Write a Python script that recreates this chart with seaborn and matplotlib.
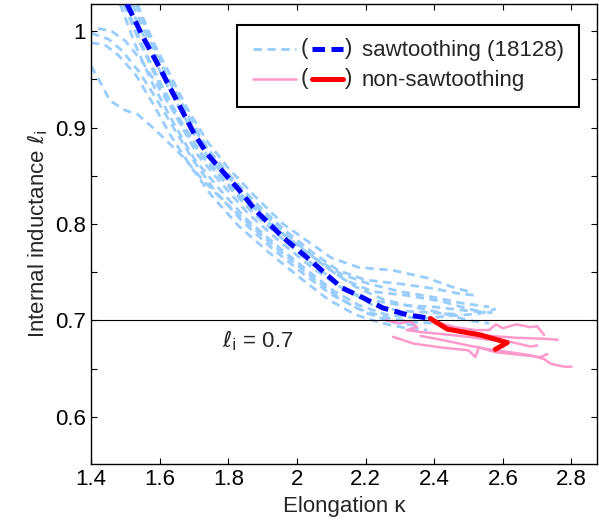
import numpy as np
import pandas as pd
import matplotlib
matplotlib.use("Agg")
import matplotlib.pyplot as plt
import seaborn as sns
from matplotlib.lines import Line2D
from matplotlib.text import Text
from matplotlib.legend_handler import HandlerBase
from matplotlib.ticker import MultipleLocator

# main sawtoothing discharge 18128 (dark dashed) and its non-sawtoothing tail (red)
saw_main_k = [1.505, 1.55, 1.60, 1.65, 1.70, 1.74, 1.80, 1.83, 1.88, 1.96, 2.05, 2.13, 2.19, 2.25, 2.32, 2.39]
saw_main_li = [1.028, 0.995, 0.962, 0.928, 0.894, 0.872, 0.848, 0.836, 0.814, 0.786, 0.759, 0.734, 0.724, 0.713, 0.706, 0.702]
non_main_k = [2.389, 2.438, 2.534, 2.613, 2.578]
non_main_li = [0.702, 0.691, 0.685, 0.677, 0.670]

# other sawtoothing discharges (light dashed)
saw_k = [
    [1.535, 1.58, 1.63, 1.68, 1.74, 1.80, 1.88, 1.96, 2.04, 2.10, 2.18, 2.28, 2.38, 2.45, 2.50],
    [1.52, 1.57, 1.62, 1.68, 1.74, 1.80, 1.88, 1.96, 2.04, 2.12, 2.20, 2.30, 2.40, 2.47, 2.52],
    [1.51, 1.56, 1.61, 1.67, 1.73, 1.80, 1.88, 1.97, 2.06, 2.14, 2.22, 2.32, 2.42, 2.50, 2.55],
    [1.495, 1.54, 1.59, 1.65, 1.71, 1.78, 1.86, 1.95, 2.04, 2.12, 2.20, 2.30, 2.40, 2.50, 2.57],
    [1.485, 1.53, 1.58, 1.64, 1.70, 1.77, 1.85, 1.94, 2.03, 2.11, 2.18, 2.26, 2.36, 2.46, 2.53, 2.58],
    [1.40, 1.45, 1.49, 1.54, 1.59, 1.64, 1.70, 1.76, 1.84, 1.93, 2.02, 2.10, 2.18, 2.26, 2.34, 2.42],
    [1.40, 1.44, 1.48, 1.53, 1.58, 1.63, 1.69, 1.75, 1.83, 1.92, 2.01, 2.09, 2.17, 2.25, 2.32, 2.38],
    [1.42, 1.46, 1.50, 1.55, 1.60, 1.66, 1.72, 1.79, 1.87, 1.96, 2.05, 2.14, 2.22, 2.30, 2.40, 2.48],
    [1.40, 1.43, 1.455, 1.50, 1.535, 1.58, 1.63, 1.67, 1.72, 1.78, 1.86, 1.95, 2.04, 2.12, 2.20, 2.28, 2.36],
    [1.50, 1.55, 1.60, 1.66, 1.72, 1.79, 1.87, 1.96, 2.05, 2.13, 2.21, 2.30, 2.40, 2.48, 2.56],
    [1.53, 1.575, 1.625, 1.69, 1.76, 1.83, 1.91, 2.00, 2.09, 2.17, 2.25, 2.34, 2.42, 2.50, 2.56],
]
saw_li = [
    [1.028, 0.99, 0.955, 0.92, 0.885, 0.858, 0.828, 0.80, 0.78, 0.765, 0.755, 0.752, 0.744, 0.735, 0.730],
    [1.028, 0.99, 0.955, 0.915, 0.878, 0.852, 0.822, 0.795, 0.772, 0.752, 0.742, 0.738, 0.733, 0.728, 0.726],
    [1.028, 0.99, 0.952, 0.912, 0.875, 0.845, 0.815, 0.787, 0.762, 0.742, 0.730, 0.726, 0.720, 0.712, 0.708],
    [1.028, 0.99, 0.952, 0.91, 0.872, 0.842, 0.81, 0.782, 0.756, 0.736, 0.722, 0.716, 0.714, 0.710, 0.708],
    [1.028, 0.985, 0.945, 0.905, 0.868, 0.838, 0.806, 0.778, 0.752, 0.730, 0.716, 0.706, 0.702, 0.705, 0.707, 0.712],
    [0.998, 0.992, 0.98, 0.958, 0.93, 0.90, 0.865, 0.835, 0.803, 0.774, 0.748, 0.727, 0.712, 0.703, 0.698, 0.697],
    [0.988, 0.986, 0.975, 0.955, 0.925, 0.893, 0.86, 0.83, 0.798, 0.77, 0.744, 0.722, 0.706, 0.697, 0.692, 0.690],
    [1.003, 1.00, 0.99, 0.968, 0.94, 0.905, 0.872, 0.843, 0.812, 0.784, 0.757, 0.733, 0.716, 0.710, 0.708, 0.706],
    [0.964, 0.945, 0.928, 0.918, 0.914, 0.900, 0.883, 0.869, 0.848, 0.826, 0.80, 0.772, 0.746, 0.724, 0.708, 0.698, 0.694],
    [1.028, 0.985, 0.948, 0.908, 0.874, 0.845, 0.815, 0.789, 0.765, 0.748, 0.738, 0.730, 0.724, 0.718, 0.714],
    [1.028, 0.99, 0.95, 0.905, 0.866, 0.836, 0.808, 0.78, 0.754, 0.735, 0.722, 0.714, 0.708, 0.700, 0.697],
]

# other non-sawtoothing discharges (light solid)
non_k = [
    [2.26, 2.30, 2.33, 2.35, 2.32, 2.36, 2.42, 2.50, 2.56, 2.62, 2.68, 2.70],
    [2.36, 2.42, 2.50, 2.56, 2.62, 2.68, 2.72, 2.74, 2.78, 2.80],
    [2.39, 2.46, 2.52, 2.56, 2.58, 2.60, 2.64, 2.68, 2.70, 2.72],
    [2.28, 2.34, 2.42, 2.50, 2.52, 2.53, 2.58, 2.66, 2.71, 2.73],
    [2.40, 2.48, 2.56, 2.64, 2.72, 2.76],
]
non_li = [
    [0.700, 0.697, 0.699, 0.693, 0.690, 0.688, 0.686, 0.683, 0.680, 0.678, 0.673, 0.674],
    [0.684, 0.680, 0.674, 0.670, 0.667, 0.664, 0.660, 0.655, 0.652, 0.652],
    [0.700, 0.693, 0.690, 0.690, 0.696, 0.692, 0.696, 0.693, 0.694, 0.685],
    [0.683, 0.676, 0.672, 0.669, 0.662, 0.672, 0.667, 0.664, 0.662, 0.665],
    [0.697, 0.689, 0.684, 0.682, 0.681, 0.680],
]

light_blue = "#99CCFF"
pink = "#FF99CC"

sns.set_style("ticks")
plt.rcParams["font.family"] = ["Liberation Sans", "DejaVu Sans"]
plt.rcParams["mathtext.fontset"] = "dejavusans"

fig = plt.figure(figsize=(5.99, 5.31), dpi=100)
ax = fig.add_axes([0.152, 0.126, 0.845, 0.866])

for k, li in zip(saw_k, saw_li):
    sns.lineplot(x=k, y=li, sort=False, estimator=None, color=light_blue,
                 linewidth=2.0, linestyle=(0, (3, 2)), ax=ax, zorder=2)
for k, li in zip(non_k, non_li):
    sns.lineplot(x=k, y=li, sort=False, estimator=None, color=pink,
                 linewidth=1.8, ax=ax, zorder=2)
sns.lineplot(x=saw_main_k, y=saw_main_li, sort=False, estimator=None, color="#0000FF",
             linewidth=3.6, linestyle=(0, (2.5, 1.3)), ax=ax, zorder=4)
sns.lineplot(x=non_main_k, y=non_main_li, sort=False, estimator=None, color="#FF0000",
             linewidth=3.6, ax=ax, zorder=4)

ax.axhline(0.7, color="black", linewidth=0.8, zorder=3)
ax.text(1.885, 0.679, r"$\ell_{\rm i}$ = 0.7", ha="center", va="center", fontsize=16)

ax.set_xlim(1.4, 2.875)
ax.set_ylim(0.551, 1.028)
ax.set_xticks([1.4, 1.6, 1.8, 2.0, 2.2, 2.4, 2.6, 2.8])
ax.set_xticklabels(["1.4", "1.6", "1.8", "2", "2.2", "2.4", "2.6", "2.8"])
ax.set_yticks([0.6, 0.7, 0.8, 0.9, 1.0])
ax.set_yticklabels(["0.6", "0.7", "0.8", "0.9", "1"])
ax.yaxis.set_minor_locator(MultipleLocator(0.05))
ax.tick_params(which="both", direction="in", top=True, right=True, length=4.5,
               width=0.8, labelsize=16, colors="black")
for s in ax.spines.values():
    s.set_linewidth(1.0)
    s.set_color("black")

ax.set_xlabel("Elongation κ", fontsize=16)
ax.set_ylabel(r"Internal inductance $\ell_{\rm i}$", fontsize=16)


class ParenHandler(HandlerBase):
    def create_artists(self, legend, orig_handle, xdescent, ydescent,
                       width, height, fontsize, trans):
        light, dark = orig_handle
        y = height / 2 - ydescent
        x0 = -xdescent
        a = Line2D([x0, x0 + 0.45 * width], [y, y])
        a.update_from(light)
        a.set_transform(trans)
        b = Line2D([x0 + 0.62 * width, x0 + 0.94 * width], [y, y])
        b.update_from(dark)
        b.set_transform(trans)
        p1 = Text(x0 + 0.535 * width, y, "(", fontsize=fontsize, ha="center",
                  va="center", transform=trans, family=["Liberation Sans", "DejaVu Sans"])
        p2 = Text(x0 + 1.0 * width, y, ")", fontsize=fontsize, ha="center",
                  va="center", transform=trans, family=["Liberation Sans", "DejaVu Sans"])
        return [a, p1, b, p2]


h_saw = (Line2D([], [], color=light_blue, linewidth=2.0, linestyle=(0, (3, 2))),
         Line2D([], [], color="#0000FF", linewidth=3.6, linestyle=(0, (2.5, 1.3))))
h_non = (Line2D([], [], color=pink, linewidth=1.8),
         Line2D([], [], color="#FF0000", linewidth=3.6))
leg = ax.legend([h_saw, h_non], ["sawtoothing (18128)", "non-sawtoothing"],
                handler_map={tuple: ParenHandler()}, loc="upper right",
                bbox_to_anchor=(0.965, 0.955), borderaxespad=0, fontsize=16,
                handlelength=4.3, handletextpad=0.6, labelspacing=0.4,
                borderpad=0.7, fancybox=False, framealpha=1, edgecolor="black")
leg.get_frame().set_linewidth(1.5)

fig.savefig("out.png", dpi=100)
